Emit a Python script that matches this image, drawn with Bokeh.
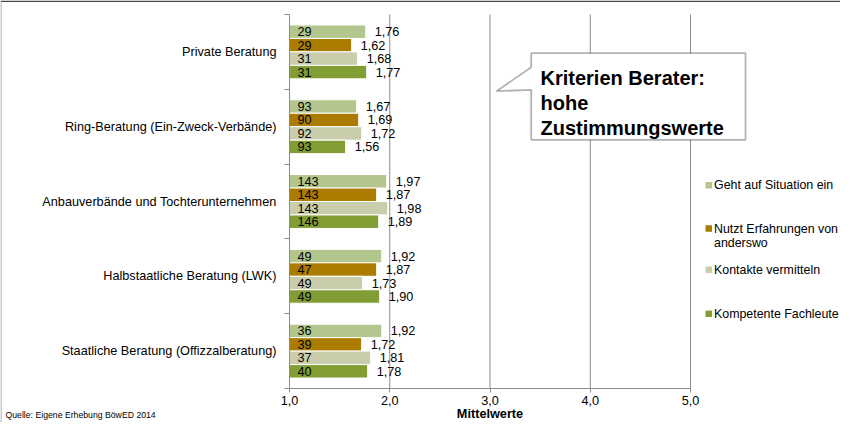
from bokeh.plotting import figure
from bokeh.models import Range1d, FixedTicker, Label, PolyAnnotation, ColumnDataSource
from bokeh.core.properties import value
from bokeh.embed import file_html
from bokeh.resources import INLINE

# ---------------- data ----------------
categories = [
    "Private Beratung",
    "Ring-Beratung (Ein-Zweck-Verbände)",
    "Anbauverbände und Tochterunternehmen",
    "Halbstaatliche Beratung (LWK)",
    "Staatliche Beratung (Offizzalberatung)",
]
series = [
    "Geht auf Situation ein",
    "Nutzt Erfahrungen von anderswo",
    "Kontakte vermitteln",
    "Kompetente Fachleute",
]
geht_mean = [1.76, 1.67, 1.97, 1.92, 1.92]
nutzt_mean = [1.62, 1.69, 1.87, 1.87, 1.72]
kontakte_mean = [1.68, 1.72, 1.98, 1.73, 1.81]
kompetent_mean = [1.77, 1.56, 1.89, 1.90, 1.78]

geht_n = [29, 93, 143, 49, 36]
nutzt_n = [29, 90, 143, 47, 39]
kontakte_n = [31, 92, 143, 49, 37]
kompetent_n = [31, 93, 146, 49, 40]

x_ticks = [1, 2, 3, 4, 5]
x_tick_labels = ["1,0", "2,0", "3,0", "4,0", "5,0"]
x_title = "Mittelwerte"
source_note = "Quelle: Eigene Erhebung BöwED 2014"
callout_lines = ["Kriterien Berater:", "hohe", "Zustimmungswerte"]
legend_lines = [["Geht auf Situation ein"], ["Nutzt Erfahrungen von", "anderswo"],
                ["Kontakte vermitteln"], ["Kompetente Fachleute"]]

colors = ["#b3c68e", "#ab7c00", "#c9cdac", "#829d33"]
means = [geht_mean, nutzt_mean, kontakte_mean, kompetent_mean]
counts = [geht_n, nutzt_n, kontakte_n, kompetent_n]

FONT = "Liberation Sans"
FS = "12.7px"
GREY = "#8c8c8c"
BAR_H = 0.18
n_cat = len(categories)

W, H = 840, 422
# plot area in pixel coords: x 1..5 -> 289..690, categories 0..5 -> TOP..BOT
TOP, BOT = 14, 388
PX_X = (690 - 289) / 4.0
PX_Y = (BOT - TOP) / 5.0
x_start = 1 - 289 / PX_X
x_end = 1 + (W - 289) / PX_X
y_top = -TOP / PX_Y
y_bottom = 5 + (H - BOT) / PX_Y


def rx(x):
    return x


def ry(y):
    return H - y


p = figure(width=W, height=H, x_range=Range1d(x_start, x_end), y_range=Range1d(y_bottom, y_top),
           output_backend="svg", toolbar_location=None,
           min_border_left=0, min_border_right=0, min_border_top=0, min_border_bottom=0)
p.outline_line_color = None
p.background_fill_color = "white"
p.border_fill_color = "white"
p.xgrid.visible = False
p.ygrid.visible = False

# vertical grid lines at the x ticks (spanning the category band)
p.segment(x0=x_ticks[1:], y0=[0] * (len(x_ticks) - 1), x1=x_ticks[1:], y1=[n_cat] * (len(x_ticks) - 1),
          line_color=GREY, line_width=1)

for j in range(len(series)):
    ys = [i + 0.5 + (j - 1.5) * BAR_H for i in range(n_cat)]
    src = ColumnDataSource(dict(
        y=ys,
        left=[x_ticks[0]] * n_cat,
        right=means[j],
        n=[str(c) for c in counts[j]],
        lab=[f"{v:.2f}".replace(".", ",") for v in means[j]],
    ))
    p.hbar(y="y", left="left", right="right", height=BAR_H, source=src,
           fill_color=colors[j], line_color="white", line_width=1)
    p.text(x="left", y="y", text="n", source=src, x_offset=8, text_baseline="middle",
           text_align="left", text_font=value(FONT), text_font_size=FS, text_color="black")
    p.text(x="right", y="y", text="lab", source=src, x_offset=9, text_baseline="middle",
           text_align="left", text_font=value(FONT), text_font_size=FS, text_color="black")

# x axis (drawn at the bottom of the category band)
xa = p.xaxis[0]
xa.fixed_location = n_cat
xa.bounds = (x_ticks[0], x_ticks[-1])
xa.ticker = FixedTicker(ticks=x_ticks)
xa.major_label_overrides = {t: l for t, l in zip(x_ticks, x_tick_labels)}
xa.axis_line_color = GREY
xa.major_tick_line_color = GREY
xa.major_tick_out = 4
xa.major_tick_in = 0
xa.minor_tick_line_color = None
xa.major_label_text_font = FONT
xa.major_label_text_font_size = FS
xa.major_label_text_color = "black"
xa.major_label_standoff = 3

# y axis (drawn at x = 1)
ya = p.yaxis[0]
ya.fixed_location = x_ticks[0]
ya.bounds = (0, n_cat)
centers = [i + 0.5 for i in range(n_cat)]
ya.ticker = FixedTicker(ticks=centers, minor_ticks=list(range(n_cat + 1)))
ya.major_label_overrides = {c: name for c, name in zip(centers, categories)}
ya.axis_line_color = GREY
ya.major_tick_line_color = None
ya.major_tick_out = 0
ya.major_tick_in = 0
ya.minor_tick_line_color = GREY
ya.minor_tick_out = 5
ya.minor_tick_in = 0
ya.major_label_text_font = FONT
ya.major_label_text_font_size = FS
ya.major_label_text_color = "black"
ya.major_label_standoff = 8

# axis title and source note
p.add_layout(Label(x=3, y=ry(413), x_units="data", y_units="screen", text=x_title,
                   text_font=FONT, text_font_size=FS, text_font_style="bold",
                   text_align="center", text_baseline="middle", text_color="black"))
p.add_layout(Label(x=rx(5), y=ry(414), x_units="screen", y_units="screen", text=source_note,
                   text_font=FONT, text_font_size="8.7px", text_align="left",
                   text_baseline="middle", text_color="black"))

# callout box
cx = [530.7, 745, 745, 530.7, 530.7, 496, 530.7]
cy = [52.7, 52.7, 139.3, 139.3, 89.3, 90.7, 66.7]
p.add_layout(PolyAnnotation(xs=[rx(v) for v in cx], ys=[ry(v) for v in cy],
                            xs_units="screen", ys_units="screen",
                            fill_color="white", fill_alpha=1.0,
                            line_color="black", line_width=1.8))
for line, base in zip(callout_lines, [77.3, 102.3, 127.3]):
    p.add_layout(Label(x=rx(540), y=ry(base), x_units="screen", y_units="screen", text=line,
                       text_font=FONT, text_font_size="20px", text_font_style="bold",
                       text_align="left", text_baseline="alphabetic", text_color="black"))

# legend (manual, to follow the irregular spacing)
legend_y = [[184.7], [228, 242.7], [269.3], [313.3]]
SQ_L, SQ_R, TXT_X = 705, 711.5, 713.5
for j, (lines, ys) in enumerate(zip(legend_lines, legend_y)):
    y0 = ys[0]
    p.add_layout(PolyAnnotation(xs=[rx(SQ_L), rx(SQ_R), rx(SQ_R), rx(SQ_L)],
                                ys=[ry(y0 - 3.2), ry(y0 - 3.2), ry(y0 + 3.2), ry(y0 + 3.2)],
                                xs_units="screen", ys_units="screen",
                                fill_color=colors[j], fill_alpha=1.0, line_color=None))
    for line, yy in zip(lines, ys):
        p.add_layout(Label(x=rx(TXT_X), y=ry(yy), x_units="screen", y_units="screen", text=line,
                           text_font=FONT, text_font_size="12.4px", text_align="left",
                           text_baseline="middle", text_color="black"))

# outer frame lines (top and left edges of the slide graphic)
p.add_layout(PolyAnnotation(xs=[rx(0), rx(W), rx(W), rx(0)], ys=[ry(0), ry(0), ry(1.6), ry(1.6)],
                            xs_units="screen", ys_units="screen",
                            fill_color="#4a4a4a", fill_alpha=1.0, line_color=None))
p.add_layout(PolyAnnotation(xs=[rx(0), rx(1), rx(1), rx(0)], ys=[ry(0), ry(0), ry(H), ry(H)],
                            xs_units="screen", ys_units="screen",
                            fill_color="#9a9a9a", fill_alpha=1.0, line_color=None))

open("out.html", "w").write(file_html(p, INLINE))
